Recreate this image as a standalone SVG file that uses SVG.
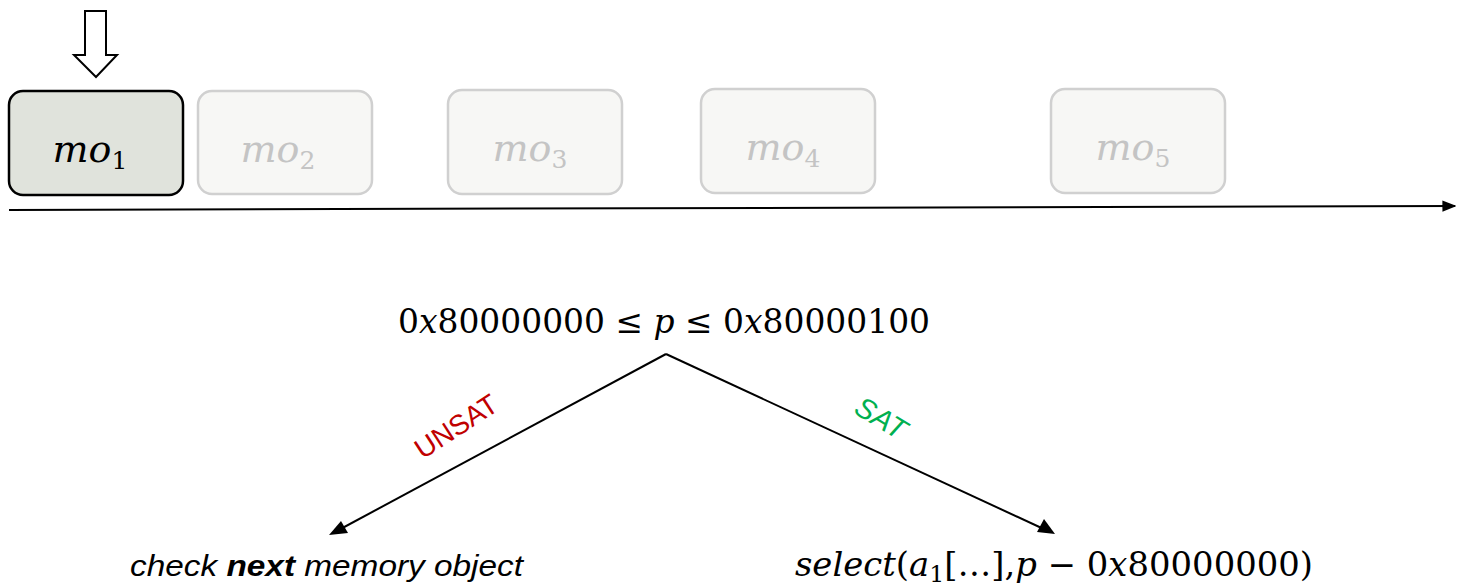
<svg xmlns="http://www.w3.org/2000/svg" width="1460" height="586" viewBox="0 0 1460 586">
<style>
.box{fill:#f7f7f5;stroke:#d0d0d0;stroke-width:2.5}
.active{fill:#e0e3dc;stroke:#000;stroke-width:2.5}
.math{font-family:"DejaVu Serif","Liberation Serif",serif;font-size:33px}
.mo{font-family:"DejaVu Serif","Liberation Serif",serif;font-size:38px}
.it{font-style:italic}
.gray{fill:#c4c4c4}
.conn{stroke:#000;stroke-width:2;fill:none}
.sans{font-family:"Liberation Sans","DejaVu Sans",sans-serif}
</style>
<defs>
<marker id="tri2" viewBox="0 0 10 10" refX="9" refY="5" markerWidth="14" markerHeight="14" markerUnits="userSpaceOnUse" orient="auto">
<path d="M0,1 L10,5 L0,9 z" fill="#000"/>
</marker>
</defs>
<g id="pointer">
<path d="M85,11 H106 V55 H117 L96,77 L74,55 H85 Z" fill="#fff" stroke="#000" stroke-width="2"/>
</g>
<g id="mo1">
<rect class="active" x="9" y="91" width="174" height="104" rx="14"/>
<text class="mo" x="90" y="162" text-anchor="middle"><tspan class="it">mo</tspan><tspan font-size="25" dy="7">1</tspan></text>
</g>
<g id="mo2">
<rect class="box" x="198" y="91" width="174" height="103" rx="14"/>
<text class="mo gray" x="278" y="162" text-anchor="middle"><tspan class="it">mo</tspan><tspan font-size="25" dy="7">2</tspan></text>
</g>
<g id="mo3">
<rect class="box" x="448" y="90" width="174" height="104" rx="14"/>
<text class="mo gray" x="530" y="161" text-anchor="middle"><tspan class="it">mo</tspan><tspan font-size="25" dy="7">3</tspan></text>
</g>
<g id="mo4">
<rect class="box" x="701" y="89" width="174" height="104" rx="14"/>
<text class="mo gray" x="783" y="160" text-anchor="middle"><tspan class="it">mo</tspan><tspan font-size="25" dy="7">4</tspan></text>
</g>
<g id="mo5">
<rect class="box" x="1051" y="89" width="174" height="104" rx="14"/>
<text class="mo gray" x="1133" y="160" text-anchor="middle"><tspan class="it">mo</tspan><tspan font-size="25" dy="7">5</tspan></text>
</g>
<g id="condition">
<text class="math" x="398" y="333" textLength="532" lengthAdjust="spacingAndGlyphs">0<tspan class="it">x</tspan>80000000 ≤ <tspan class="it">p</tspan> ≤ 0<tspan class="it">x</tspan>80000100</text>
</g>
<g id="unsat-target">
<text class="sans it" x="130" y="576" font-size="29" textLength="393" lengthAdjust="spacingAndGlyphs">check <tspan font-weight="bold">next</tspan> memory object</text>
</g>
<g id="sat-target">
<text class="math" x="795" y="576" font-size="32" textLength="518" lengthAdjust="spacingAndGlyphs"><tspan class="it">select</tspan>(<tspan class="it">a</tspan><tspan font-size="23" dy="6">1</tspan><tspan dy="-6">[…],</tspan><tspan class="it">p</tspan> − 0<tspan class="it">x</tspan>80000000)</text>
</g>
<g id="connectors">
<line class="conn" x1="9" y1="210" x2="1455" y2="206" marker-end="url(#tri2)"/>
<line class="conn" x1="666" y1="354" x2="335" y2="532"/>
<line class="conn" x1="666" y1="354" x2="1048" y2="531"/>
<path d="M1055,534 L1037,532 L1044,519 Z" fill="#000"/>
<path d="M329,535 L341,521 L348,533 Z" fill="#000"/>
<text class="sans" x="456" y="436" font-size="28" fill="#c00000" text-anchor="middle" transform="rotate(-33 456 426)">UNSAT</text>
<text class="sans it" x="881" y="428" font-size="29" fill="#00b050" text-anchor="middle" transform="rotate(31 881 418)">SAT</text>
</g>
</svg>
